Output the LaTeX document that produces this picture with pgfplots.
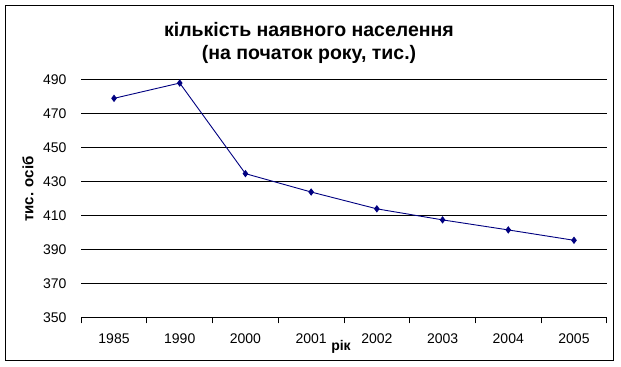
\documentclass[border=0pt]{standalone}
\usepackage{fontspec}
\setmainfont{Liberation Sans}
\usepackage{pgfplots}
\pgfplotsset{compat=1.18}
\definecolor{navyline}{RGB}{0,0,128}
\begin{document}
\begin{tikzpicture}[x=1bp,y=1bp]
\path[use as bounding box] (0,0) rectangle (621,366);
\draw[line width=1bp] (5.5,6) rectangle (613.5,360.5);
\begin{axis}[
  at={(81.15bp,48.7bp)}, anchor=south west,
  scale only axis, width=525.7bp, height=238bp,
  xmin=-0.5, xmax=7.5, ymin=350, ymax=490,
  ytick={350,370,...,490},
  xtick={0,...,7},
  xticklabels={1985,1990,2000,2001,2002,2003,2004,2005},
  minor xtick={-0.5,0.5,...,7.5},
  major x tick style={draw=none},
  minor x tick style={black, line width=0.8bp},
  minor tick length=6bp,
  tick align=outside,
  axis x line*=bottom, axis y line*=left,
  x axis line style={black, line width=0.8bp, -},
  y axis line style={draw=none},
  ytick style={draw=none},
  ymajorgrids, grid style={black, line width=0.8bp},
  /pgf/number format/assume math mode=true,
  /pgf/number format/set thousands separator={},
  ticklabel style={font=\fontsize{14bp}{16bp}\selectfont},
  xticklabel style={yshift=-9bp},
  yticklabel style={xshift=-7bp},
]
\addplot[color=navyline, line width=0.9bp, mark=diamond*, mark size=3bp, mark options={fill=navyline, draw=navyline}]
coordinates {(0,478.8)(1,487.8)(2,434.5)(3,423.7)(4,413.8)(5,407.3)(6,401.4)(7,395.3)};
\end{axis}
\node[anchor=base, font=\fontsize{19.5bp}{21bp}\selectfont\bfseries] at (309,329.7) {кількість наявного населення};
\node[anchor=base, font=\fontsize{19.5bp}{21bp}\selectfont\bfseries] at (309,307) {(на початок року, тис.)};
\node[rotate=90, font=\fontsize{15bp}{17bp}\selectfont\bfseries] at (28,177) {тис. осіб};
\node[anchor=base, font=\fontsize{14bp}{16bp}\selectfont\bfseries] at (341,15.3) {рік};
\end{tikzpicture}
\end{document}
